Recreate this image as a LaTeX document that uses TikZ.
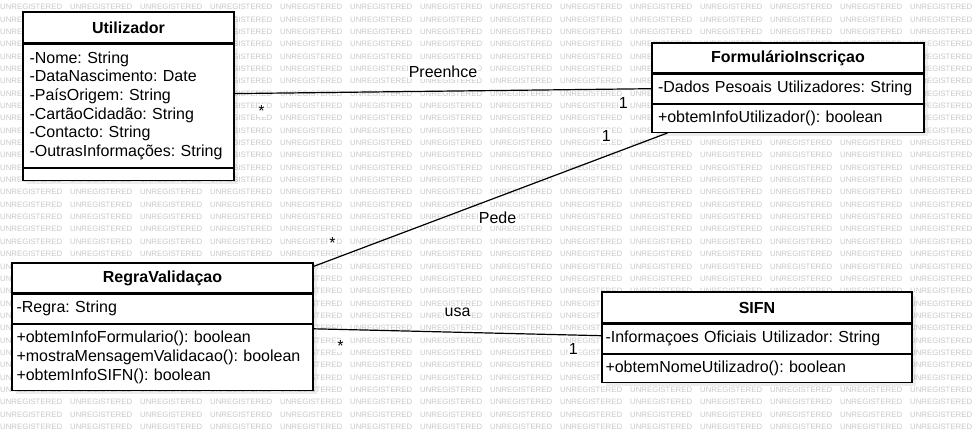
\documentclass[tikz,border=0pt]{standalone}
\usepackage{fontspec}
\setmainfont{Liberation Sans}
\usetikzlibrary{calc,shadows}
\newif\ifwmfree
\frenchspacing

\begin{document}
\begin{tikzpicture}[x=1pt,y=-1pt,
  wmark/.style={anchor=west,inner sep=0pt,black!22,font=\fontsize{7.8}{8}\selectfont},
  cbox/.style={draw,fill=white,line width=1.2pt,inner ysep=2pt,
    font=\fontsize{16}{18.6}\selectfont,
    drop shadow={shadow xshift=4pt,shadow yshift=-4pt,fill=black,opacity=0.07}},
  chead/.style={cbox,font=\fontsize{16}{18.6}\selectfont\bfseries},
  cpart/.style={cbox,anchor=north,align=left},
  assoc/.style={line width=1.2pt},
  lbl/.style={fill=white,inner sep=1pt,font=\fontsize{16}{18}\selectfont}]
\useasboundingbox (0,0) rectangle (975,438);

% watermark, left out only where a box hides a whole word
\foreach \r in {0,...,34}
  \foreach \c in {0,...,13} {
    \pgfmathsetmacro\wx{70*\c}
    \pgfmathsetmacro\wy{7+12.35*\r}
    \global\wmfreetrue
    \foreach \xa/\ya/\xb/\yb in {23/12/234/178, 652/43/924/130, 12/263/313/388, 602/292/912/380} {
      \pgfmathparse{(\wx>\xa)&&(\wx+62<\xb)&&(\wy-4>\ya)&&(\wy+4<\yb)?1:0}
      \ifnum\pgfmathresult=1 \global\wmfreefalse\fi
    }
    \ifwmfree \node[wmark] at (\wx,\wy) {UNREGISTERED}; \fi
  }

% Utilizador
\node[chead,minimum width=211pt,minimum height=31pt] (uthead) at (128.5,27.5) {Utilizador};
\node[cpart,inner xsep=6.5pt,text width=198pt,minimum height=123pt] (utattr) at (uthead.south)
  {-Nome: String\\-DataNascimento: Date\\-PaísOrigem: String\\-CartãoCidadão: String\\-Contacto: String\\-OutrasInformações: String};
\node[cpart,minimum width=211pt,minimum height=12pt,inner sep=0pt] (utmeth) at (utattr.south) {};

% FormularioInscricao
\node[chead,minimum width=272pt,minimum height=30pt] (fihead) at (788,58) {FormulárioInscriçao};
\node[cpart,inner xsep=6pt,text width=260pt,minimum height=29pt] (fiattr) at (fihead.south)
  {-Dados Pesoais Utilizadores: String};
\node[cpart,inner xsep=6pt,text width=260pt,minimum height=28pt] (fimeth) at (fiattr.south)
  {+obtemInfoUtilizador(): boolean};

% RegraValidacao
\node[chead,minimum width=301pt,minimum height=30pt] (rvhead) at (162.5,278) {RegraValidaçao};
\node[cpart,inner xsep=4.5pt,text width=292pt,minimum height=29pt] (rvattr) at (rvhead.south)
  {-Regra: String};
\node[cpart,inner xsep=4.5pt,text width=292pt,minimum height=66pt] (rvmeth) at (rvattr.south)
  {+obtemInfoFormulario(): boolean\\+mostraMensagemValidacao(): boolean\\+obtemInfoSIFN(): boolean};

% SIFN
\node[chead,minimum width=310pt,minimum height=31pt] (sfhead) at (757,307.5) {SIFN};
\node[cpart,inner xsep=3.5pt,text width=303pt,minimum height=29pt] (sfattr) at (sfhead.south)
  {-Informaçoes Oficiais Utilizador: String};
\node[cpart,inner xsep=3.5pt,text width=303pt,minimum height=28pt] (sfmeth) at (sfattr.south)
  {+obtemNomeUtilizadro(): boolean};

% associacoes
\draw[assoc] ([yshift=-50pt]utattr.north east) -- (fiattr.west)
  node[lbl,midway,yshift=19pt] {Preenhce}
  node[lbl,at start,xshift=27pt,yshift=-17pt] {*}
  node[lbl,at end,xshift=-28pt,yshift=-14.5pt] {1};
\draw[assoc] ([xshift=16pt]fimeth.south west) -- ([yshift=-4pt]rvhead.north east)
  node[lbl,pos=0.48,yshift=-21pt] {Pede}
  node[lbl,at start,xshift=-61pt,yshift=-3pt] {1}
  node[lbl,at end,xshift=19pt,yshift=23pt] {*};
\draw[assoc] ([yshift=-5pt]rvmeth.north east) -- ([yshift=3pt]sfattr.west)
  node[lbl,midway,yshift=19.5pt] {usa}
  node[lbl,at start,xshift=27pt,yshift=-17pt] {*}
  node[lbl,at end,xshift=-28pt,yshift=-13.5pt] {1};

\end{tikzpicture}
\end{document}
